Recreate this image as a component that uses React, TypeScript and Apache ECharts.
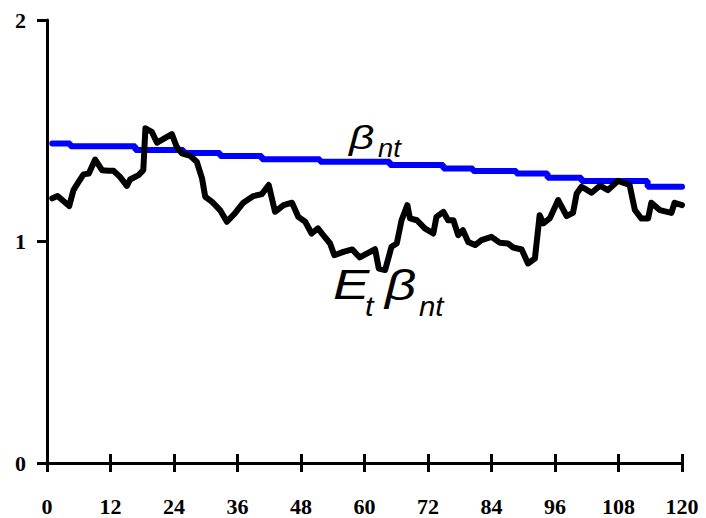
import React, { useEffect, useRef } from "react";
import * as echarts from "echarts";

const xTicks = [0, 12, 24, 36, 48, 60, 72, 84, 96, 108, 120];
const yTicks = [0, 1, 2];

// E_t beta_nt (black) : month, value
const etMonths = [
  1.0, 2.0, 4.2, 5.0, 6.0, 6.9, 7.9, 9.1, 10.4, 11.6, 12.6, 13.8, 15.1, 15.7, 17.3, 18.2, 18.6, 19.8, 20.8,
  23.6, 24.5, 25.5, 27.1, 28.3, 29.3, 29.9, 31.2, 32.7, 34.0, 35.5, 37.1, 39.0, 40.6, 41.9, 43.1, 44.7,
  46.3, 47.5, 48.8, 50.0, 51.2, 52.2, 53.5, 54.3, 56.0, 57.7, 59.1, 60.7, 62.0, 62.7, 63.9, 65.1, 66.1,
  67.0, 68.1, 68.6, 69.9, 71.4, 73.0, 73.6, 74.9, 75.8, 76.8, 77.7, 78.6, 79.6, 80.9, 82.1, 84.0, 85.6,
  87.1, 88.1, 89.7, 90.9, 92.2, 93.1, 93.8, 95.0, 96.6, 98.2, 99.4, 100.1, 101.0, 101.9, 102.9, 104.5,
  106.0, 107.9, 110.1, 111.1, 112.3, 113.6, 114.2, 115.8, 118.0, 118.6, 120.0,
];
const etValues = [
  1.195, 1.205, 1.16, 1.232, 1.27, 1.303, 1.307, 1.37, 1.322, 1.319, 1.319, 1.292, 1.251, 1.28, 1.3, 1.322,
  1.511, 1.495, 1.446, 1.485, 1.428, 1.398, 1.386, 1.36, 1.285, 1.202, 1.179, 1.142, 1.089, 1.127, 1.175,
  1.205, 1.214, 1.255, 1.134, 1.164, 1.175, 1.111, 1.089, 1.036, 1.059, 1.029, 0.991, 0.938, 0.953, 0.964,
  0.928, 0.949, 0.965, 0.878, 0.871, 0.976, 0.991, 1.096, 1.164, 1.104, 1.096, 1.059, 1.036, 1.111, 1.134,
  1.096, 1.096, 1.029, 1.051, 0.998, 0.984, 1.006, 1.021, 0.994, 0.991, 0.973, 0.964, 0.901, 0.923, 1.119,
  1.082, 1.104, 1.187, 1.115, 1.129, 1.217, 1.247, 1.235, 1.22, 1.252, 1.232, 1.274, 1.255, 1.142, 1.104,
  1.104, 1.175, 1.142, 1.129, 1.175, 1.164,
];

// beta_nt (blue, step function): month where level starts, level
const betaMonths = [1, 4.4, 16.7, 25.8, 32.7, 40.6, 51.6, 64.8, 74.9, 80.5, 88.7, 94.6, 101, 113.5, 120];
const betaValues = [1.443, 1.43, 1.413, 1.4, 1.386, 1.371, 1.36, 1.345, 1.33, 1.318, 1.307, 1.288, 1.273, 1.247, 1.247];

const labelFont = "'Liberation Serif', 'Times New Roman', serif";
const annFont = "'Liberation Sans', Arial, sans-serif";

export default function App() {
  const ref = useRef<HTMLDivElement>(null);
  useEffect(() => {
    if (!ref.current) return;
    const chart = echarts.init(ref.current, undefined, { renderer: "svg" });
    const etData = etMonths.map((m, i) => [m, etValues[i]]);
    const betaData = betaMonths.map((m, i) => [m, betaValues[i]]);
    const axisLabel = {
      fontFamily: labelFont,
      fontWeight: "bold" as const,
      fontSize: 22,
      color: "#000",
    };
    const ann = (text: string, x: number, y: number, size: number, sx: number) => ({
      type: "text",
      x,
      y,
      scaleX: sx,
      style: {
        text,
        fontFamily: annFont,
        fontStyle: "italic",
        fontSize: size,
        fill: "#000",
        verticalAlign: "top",
        align: "left",
      },
      z: 100,
    });
    chart.setOption({
      animation: false,
      backgroundColor: "#fff",
      grid: { left: 47, right: 24, top: 20, bottom: 55 },
      xAxis: [
        {
          type: "value",
          min: 0,
          max: 120,
          interval: 12,
          axisLine: { show: true, onZero: false, lineStyle: { color: "#000", width: 3 } },
          axisTick: { show: true, inside: false, length: 9, lineStyle: { color: "#000", width: 3 } },
          axisLabel: { ...axisLabel, margin: 32, formatter: (v: number) => (xTicks.includes(v) ? String(v) : "") },
          splitLine: { show: false },
        },
        {
          type: "value",
          position: "bottom",
          min: 0,
          max: 120,
          interval: 12,
          axisLine: { show: false },
          axisTick: { show: true, inside: true, length: 9, lineStyle: { color: "#000", width: 3 } },
          axisLabel: { show: false },
          splitLine: { show: false },
        },
      ],
      yAxis: {
        type: "value",
        min: 0,
        max: 2,
        interval: 1,
        axisLine: { show: true, onZero: false, lineStyle: { color: "#000", width: 3 } },
        axisTick: { show: true, inside: false, length: 10, lineStyle: { color: "#000", width: 3 } },
        axisLabel: { ...axisLabel, margin: 21, formatter: (v: number) => (yTicks.includes(v) ? String(v) : "") },
        splitLine: { show: false },
      },
      series: [
        {
          type: "line",
          name: "beta",
          data: betaData,
          step: "end",
          symbol: "none",
          lineStyle: { color: "#0000ff", width: 6, cap: "round" },
          z: 2,
        },
        {
          type: "line",
          name: "Et beta",
          data: etData,
          symbol: "none",
          lineStyle: { color: "#000", width: 6, join: "round", cap: "round" },
          z: 3,
        },
      ],
      graphic: [
        ann("β", 349, 120, 34, 1.3),
        ann("nt", 378, 135, 26, 1.05),
        ann("E", 333, 263, 42, 1.3),
        ann("t", 365, 292, 28, 1.1),
        ann("β", 385, 264, 42, 1.3),
        ann("nt", 419, 292, 28, 1.05),
      ],
    });
    return () => chart.dispose();
  }, []);
  return <div ref={ref} style={{ position: "fixed", left: 0, top: 0, width: 706, height: 518 }} />;
}
